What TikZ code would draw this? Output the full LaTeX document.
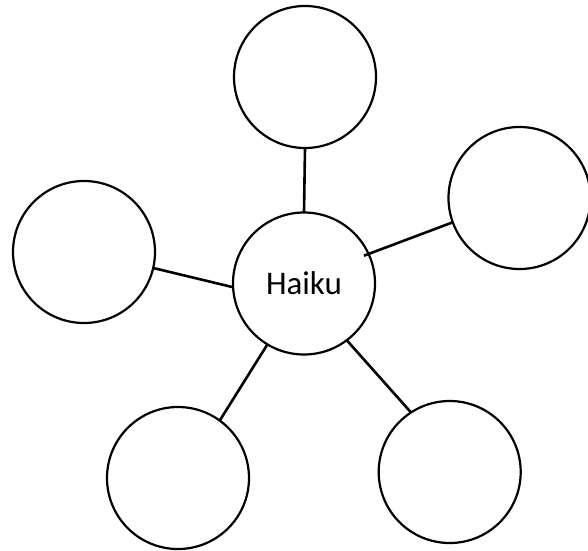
\documentclass[tikz,border=0pt]{standalone}
\usepackage{fontspec}
\setmainfont{Carlito}
\usetikzlibrary{calc}
\begin{document}
\begin{tikzpicture}[x=1pt,y=-1pt,
  bubble/.style={circle,draw=black,line width=2.2pt,minimum size=142pt,inner sep=0pt,outer sep=0pt,fill=white},
  link/.style={draw=black,line width=2.6pt}]
\useasboundingbox (0,0) rectangle (588,550);
\node[bubble,font=\fontsize{33}{40}\selectfont] (c) at (304,283.5) {Haiku};
\node[bubble] (t) at (305,77) {};
\node[bubble] (r) at (519.5,198) {};
\node[bubble] (l) at (84,252) {};
\node[bubble] (bl) at (178,478) {};
\node[bubble] (br) at (449.7,472) {};
\coordinate (cr) at ($(c.center)+(-24.9:66)$);
\draw[link] (t.-90) -- (c.90);
\draw[link] (l.-13) -- (c.-177.4);
\draw[link] (r.200.3) -- (cr);
\draw[link] (bl.54) -- (c.-121.5);
\draw[link] (br.123.7) -- (c.-53.3);
\end{tikzpicture}
\end{document}
